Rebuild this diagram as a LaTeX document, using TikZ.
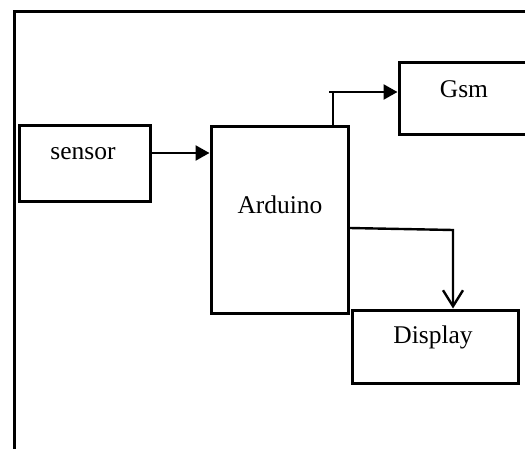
\documentclass[tikz,border=0pt]{standalone}
\usepackage{fontspec}
\setmainfont{Liberation Serif}
\usetikzlibrary{arrows.meta}
\begin{document}
\begin{tikzpicture}[x=1pt,y=-1pt,
  blk/.style={draw=black,line width=3pt,minimum width=0pt,inner sep=0pt},
  lbl/.style={anchor=base,inner sep=0pt,font=\fontsize{25.5}{30}\selectfont},
  conn/.style={draw=black,line width=2.4pt},
  fillarrow/.style={conn,-{Triangle[length=14pt,width=15pt]}},
  openarrow/.style={conn,-{Straight Barb[length=16pt,width=20pt,line width=2.4pt]}}]
\useasboundingbox (0,0) rectangle (525,449);
% frame
\draw[line width=3pt] (14,470) -- (14,12) -- (560,12);
% boxes
\node[blk,minimum width=131pt,minimum height=76pt] (sensor) at (84.5,164) {};
\node[blk,minimum width=137pt,minimum height=186pt] (arduino) at (279.5,220) {};
\node[blk,minimum width=160pt,minimum height=72pt] (gsm) at (479,99) {};
\node[blk,minimum width=166pt,minimum height=73pt] (display) at (435,346.5) {};
% labels
\node[lbl] (tsensor) at (83,160) {sensor};
\node[lbl] (tarduino) at (280,214) {Arduino};
\node[lbl] (tgsm) at (464,98) {Gsm};
\node[lbl] (tdisplay) at (433,343) {Display};
% connectors
\coordinate (gsmcorner) at (333,92);
\coordinate (dispcorner) at (453,230);
\draw[fillarrow] (sensor.east |- 0,153) -- (arduino.west |- 0,153);
\draw[conn] (arduino.north -| gsmcorner) -- (gsmcorner);
\draw[fillarrow] (329,92) -- (gsm.west |- gsmcorner);
\draw[openarrow] (arduino.east |- 0,228) -- (dispcorner) -- (display.north -| dispcorner);
\end{tikzpicture}
\end{document}
